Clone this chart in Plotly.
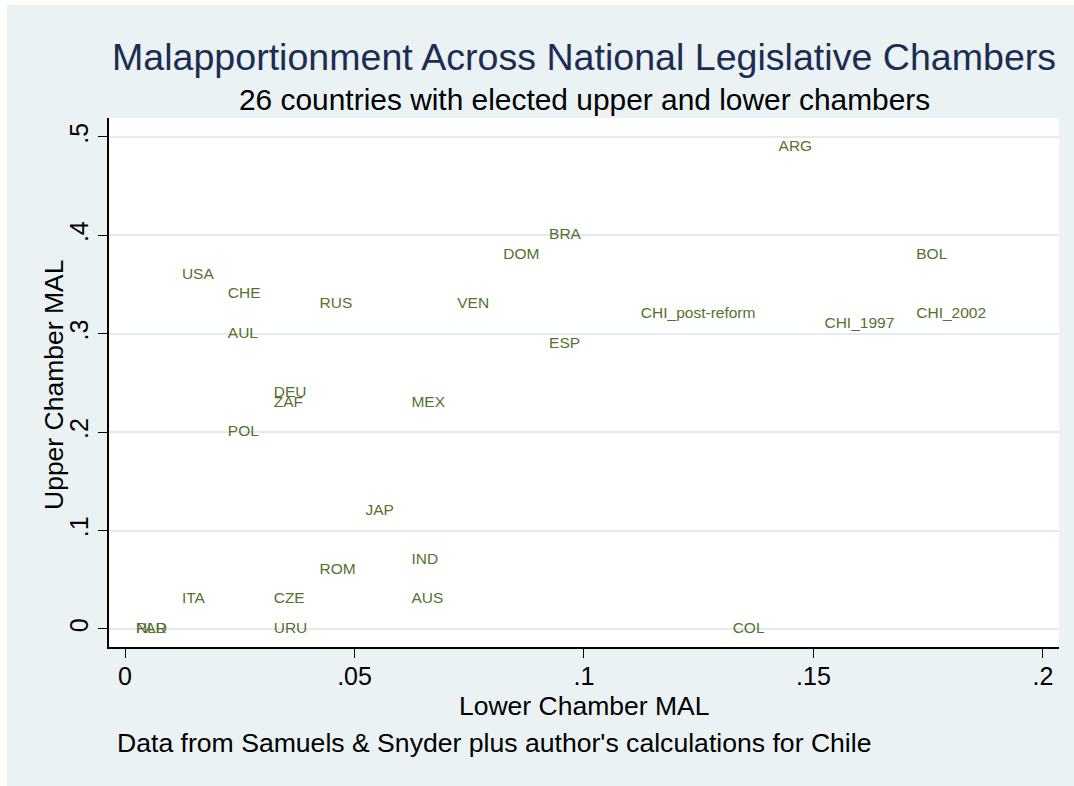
import plotly.graph_objects as go

# Country codes with lower- and upper-chamber malapportionment (MAL)
countries = [
    "ARG", "BOL", "BRA", "DOM", "USA", "CHE", "RUS", "VEN",
    "CHI_post-reform", "CHI_2002", "CHI_1997", "AUL", "ESP",
    "DEU", "ZAF", "MEX", "POL", "JAP", "IND", "ROM", "ITA",
    "CZE", "AUS", "PAR", "NLD", "URU", "COL",
]
lower_mal = [
    0.14, 0.17, 0.09, 0.08, 0.01, 0.02, 0.04, 0.07,
    0.11, 0.17, 0.15, 0.02, 0.09,
    0.03, 0.03, 0.06, 0.02, 0.05, 0.06, 0.04, 0.01,
    0.03, 0.06, 0.00, 0.00, 0.03, 0.13,
]
upper_mal = [
    0.49, 0.38, 0.40, 0.38, 0.36, 0.34, 0.33, 0.33,
    0.32, 0.32, 0.31, 0.30, 0.29,
    0.24, 0.23, 0.23, 0.20, 0.12, 0.07, 0.06, 0.03,
    0.03, 0.03, 0.00, 0.00, 0.00, 0.00,
]

x_tick_vals = [0, 0.05, 0.1, 0.15, 0.2]
x_tick_text = ["0", ".05", ".1", ".15", ".2"]
y_tick_vals = [0, 0.1, 0.2, 0.3, 0.4, 0.5]
y_tick_text = ["0", ".1", ".2", ".3", ".4", ".5"]

FONT = "Liberation Sans, Arial, Helvetica, sans-serif"
BG = "rgb(234,242,244)"
GRID = "rgb(226,235,239)"
LABEL_COLOR = "rgb(84,114,46)"
TITLE_COLOR = "rgb(28,44,82)"

W, H = 1074, 786
ML, MR, MT, MB = 109, 15, 118, 139
PW = W - ML - MR
PH = H - MT - MB


def px_x(px):
    return (px - ML) / PW


def px_y(py):
    return (H - MB - py) / PH


fig = go.Figure(
    go.Scatter(
        x=lower_mal,
        y=upper_mal,
        text=countries,
        mode="markers+text",
        textposition="middle right",
        marker=dict(size=16, opacity=0),
        textfont=dict(family=FONT, size=15.5, color=LABEL_COLOR),
        hoverinfo="skip",
        showlegend=False,
    )
)

axis_common = dict(
    ticks="outside",
    ticklen=9,
    tickwidth=1.3,
    tickcolor="black",
    showline=True,
    linecolor="black",
    linewidth=1.5,
    zeroline=False,
    tickfont=dict(family=FONT, size=25, color="black"),
)

fig.update_xaxes(
    range=[-0.00349, 0.2035],
    tickvals=x_tick_vals,
    ticktext=x_tick_text,
    showgrid=False,
    ticklabelstandoff=-3,
    **axis_common,
)
fig.update_yaxes(
    range=[-0.0183, 0.5193],
    tickvals=y_tick_vals,
    ticktext=y_tick_text,
    tickangle=-90,
    showgrid=True,
    gridcolor=GRID,
    gridwidth=2,
    **axis_common,
)

annotations = [
    dict(text="Malapportionment Across National Legislative Chambers",
         x=0.5, y=px_y(57), font=dict(family=FONT, size=37.6, color=TITLE_COLOR)),
    dict(text="26 countries with elected upper and lower chambers",
         x=0.5, y=px_y(99), font=dict(family=FONT, size=29.9, color="black")),
    dict(text="Lower Chamber MAL",
         x=0.5, y=px_y(706), font=dict(family=FONT, size=26.5, color="black")),
    dict(text="Upper Chamber MAL", textangle=-90,
         x=px_x(54), y=px_y(385), font=dict(family=FONT, size=26.5, color="black")),
    dict(text="Data from Samuels & Snyder plus author's calculations for Chile",
         x=px_x(115), y=px_y(743), xanchor="left",
         font=dict(family=FONT, size=26.6, color="black")),
]
for a in annotations:
    a.setdefault("xanchor", "center")
    a.update(xref="paper", yref="paper", yanchor="middle", showarrow=False)

# thin white page strips along the top and left edges
shapes = [
    dict(type="rect", xref="paper", yref="paper", layer="below",
         x0=px_x(0), x1=px_x(7), y0=px_y(H), y1=px_y(0),
         fillcolor="white", line=dict(width=0)),
    dict(type="rect", xref="paper", yref="paper", layer="below",
         x0=px_x(0), x1=px_x(W), y0=px_y(5), y1=px_y(0),
         fillcolor="white", line=dict(width=0)),
]

fig.update_layout(
    width=W,
    height=H,
    margin=dict(l=ML, r=MR, t=MT, b=MB),
    paper_bgcolor=BG,
    plot_bgcolor="white",
    annotations=annotations,
    shapes=shapes,
    font=dict(family=FONT),
)

fig.write_html("out.html")
